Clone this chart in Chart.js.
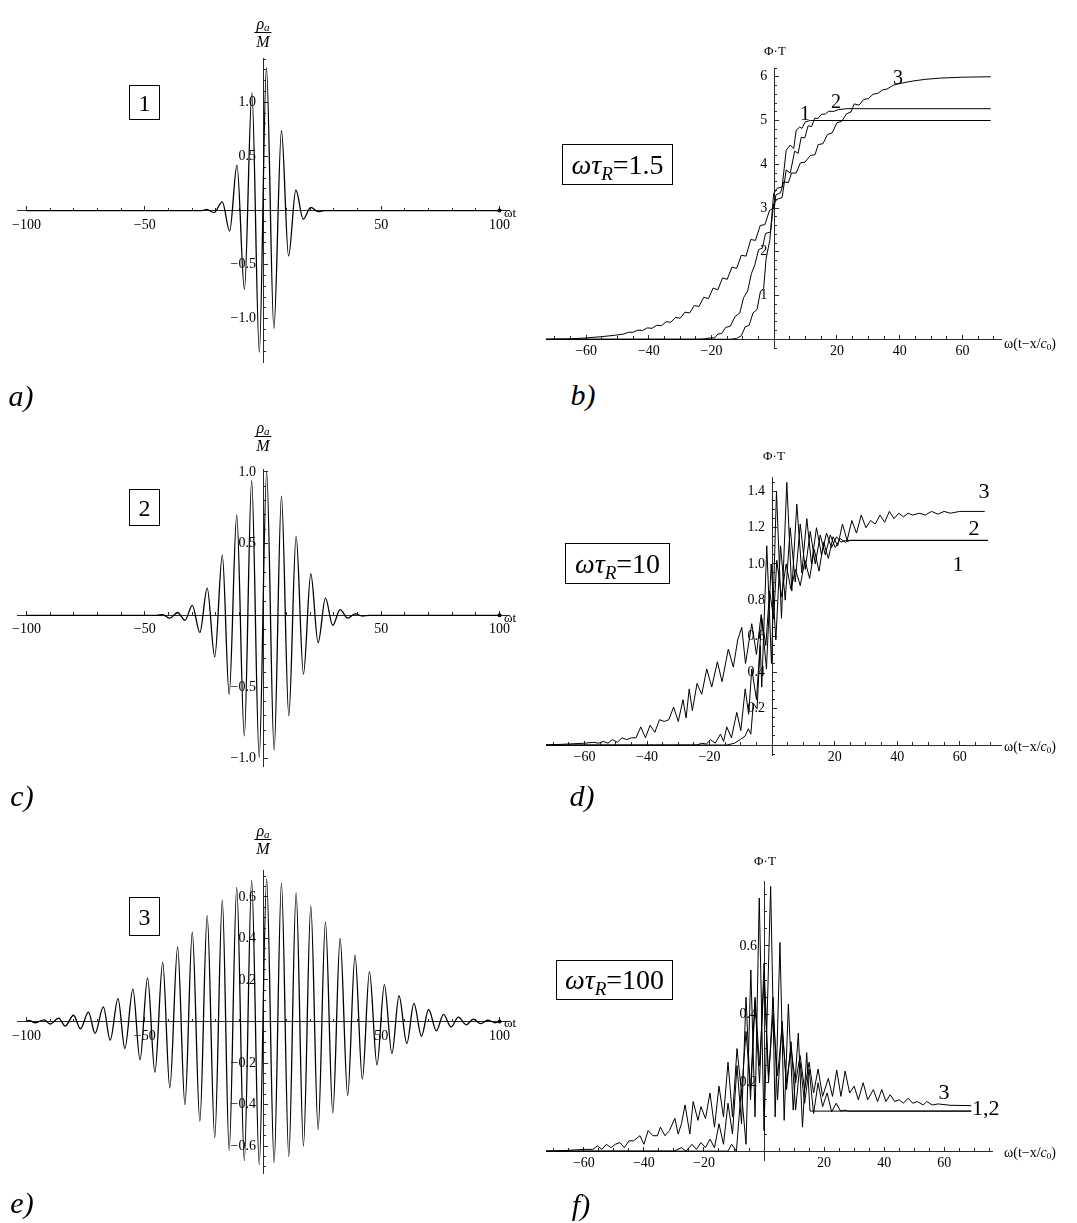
<!DOCTYPE html>
<html>
<head>
<meta charset="utf-8">
<script src="https://cdn.jsdelivr.net/npm/chart.js@4.4.1/dist/chart.umd.min.js"></script>
<style>
body { margin: 0; background: #fff; width: 1077px; height: 1223px; position: relative; overflow: hidden; font-family: "Liberation Serif", serif; color: #000; }
canvas { position: absolute; }
.t { position: absolute; white-space: nowrap; line-height: 1; transform: translate(-50%, -50%); }
.lt { position: absolute; white-space: nowrap; line-height: 1; transform: translateY(-50%); }
.box { position: absolute; border: 1.5px solid #000; box-sizing: border-box; display: flex; align-items: center; justify-content: center; white-space: nowrap; }
.box span { display: inline-block; line-height: 1; }
.box sub { font-size: 0.68em; vertical-align: -0.3em; font-style: italic; line-height: 0; }
.frac { position: absolute; transform: translateX(-50%); display: flex; flex-direction: column; align-items: center; font-style: italic; font-size: 16px; }
.frac .num { line-height: 16px; height: 16px; border-bottom: 1px solid #000; padding: 0 2px; }
.frac .num sub { font-size: 11px; vertical-align: -2px; line-height: 0; }
.frac .den { line-height: 16px; padding-top: 1px; }
.let { font-style: italic; font-size: 30px; }
</style>
</head>
<body>
<script>
// Data
///////////////////////////////////////////////////////////////////////

// wave packets rho_a/M vs omega*t : extrema
const waveAX = [-100, -26, -23.8, -20.7, -17.2, -14.1, -11.0, -7.85, -4.7, -1.55, 1.45, 4.6, 7.8, 10.8, 13.9, 17.0, 20.2, 23.3, 26, 100];
const waveAY = [0, 0, 0.01, -0.02, 0.08, -0.19, 0.42, -0.73, 1.09, -1.31, 1.32, -1.09, 0.74, -0.42, 0.19, -0.08, 0.03, -0.01, 0, 0];

const waveCX = [-100, -45, -42.4, -39.4, -36.1, -33, -29.9, -26.7, -23.6, -20.4, -17.2, -14.3, -11.1, -7.9, -4.8, -1.6, 1.55, 4.7, 7.8, 10.9, 14, 17.1, 20.2, 23.3, 26.4, 29.5, 32.6, 35.8, 39, 42, 45, 100];
const waveCY = [0, 0, 0.005, -0.02, 0.02, -0.035, 0.07, -0.12, 0.19, -0.29, 0.42, -0.55, 0.70, -0.84, 0.94, -0.99, 1.0, -0.94, 0.83, -0.70, 0.55, -0.41, 0.29, -0.19, 0.12, -0.07, 0.04, -0.02, 0.01, -0.005, 0, 0];

const waveEX = [-100, -99, -96.2, -92.6, -90, -86.4, -83.6, -80.1, -77.2, -73.8, -71, -67.5, -64.6, -61.3, -58.4, -55, -52, -48.8, -45.7, -42.4, -39.4, -36.1, -33, -29.9, -26.7, -23.6, -20.4, -17.2, -14.3, -11.1, -7.9, -4.8, -1.6,
  1.55, 4.7, 7.8, 10.9, 14, 17.1, 20.2, 23.3, 26.4, 29.5, 32.6, 35.8, 38.9, 42, 45, 48.2, 51.3, 54.5, 57.5, 60.8, 63.8, 67, 70, 73.3, 76.3, 79.5, 82.6, 85.9, 88.9, 92, 95, 98.3, 100];
const waveEY = [0, 0.005, -0.006, 0.008, -0.012, 0.016, -0.022, 0.03, -0.035, 0.045, -0.057, 0.07, -0.09, 0.11, -0.13, 0.156, -0.185, 0.21, -0.245, 0.285, -0.32, 0.36, -0.40, 0.43, -0.48, 0.51, -0.56, 0.585, -0.62, 0.646, -0.67, 0.68, -0.69,
  0.686, -0.68, 0.667, -0.65, 0.62, -0.60, 0.557, -0.52, 0.48, -0.44, 0.40, -0.357, 0.32, -0.278, 0.24, -0.21, 0.178, -0.154, 0.124, -0.106, 0.087, -0.071, 0.058, -0.045, 0.034, -0.026, 0.021, -0.016, 0.011, -0.01, 0.006, -0.006, 0];

// Phi*T vs omega(t - x/c0), curves 1..3, [x, y] vertices
const phiB1 = [[-72.8,0],[-14,0],[-12,0.02],[-10.5,0.08],[-9.3,0.28],[-8,0.32],[-6.8,0.6],[-5.5,0.68],[-4.4,1.1],[-3.4,1.15],[-2.6,1.85],[-1.4,2.27],[-0.2,3.33],[0.9,3.45],[2.5,3.48],[3.8,4.32],[5.1,4.44],[6.2,4.36],[7,4.78],[8.1,4.85],[8.8,4.82],[9.9,4.97],[11.5,5],[69,5]];
const phiB2 = [[-72.8,0],[-24,0],[-22,0.01],[-20.5,0.03],[-19,0.03],[-18,0.12],[-16.8,0.13],[-15.5,0.27],[-14,0.3],[-12.5,0.52],[-11,0.6],[-9.8,0.95],[-8.5,1.1],[-7.3,1.5],[-6.2,1.7],[-5,2.05],[-3.8,2.08],[-2.8,2.42],[-1.2,2.45],[-0.2,3.1],[0.9,3.2],[2.5,3.24],[3.8,3.87],[5.1,3.8],[6.5,4.3],[7.6,4.25],[8.6,4.62],[9.7,4.6],[10.8,4.88],[11.9,4.86],[12.9,5.05],[14,5.05],[15,5.14],[16.3,5.15],[17.3,5.21],[19.1,5.21],[20.5,5.25],[23.2,5.27],[69,5.27]];
const phiB3 = [[-72.8,0],[-65,0.01],[-60,0.03],[-55,0.06],[-51,0.09],[-48,0.12],[-46.5,0.16],[-45,0.16],[-43.5,0.21],[-42,0.2],[-40.5,0.26],[-39,0.25],[-37.5,0.32],[-36,0.31],[-34.5,0.4],[-33,0.39],[-31.5,0.5],[-30,0.48],[-28.5,0.62],[-27,0.6],[-25.5,0.77],[-24,0.75],[-22.5,0.96],[-21,0.93],[-19.5,1.17],[-18,1.13],[-16.5,1.4],[-15,1.37],[-13.5,1.65],[-12,1.62],[-10.5,1.92],[-9,1.9],[-7.5,2.28],[-6,2.26],[-4.5,2.6],[-3,2.62],[-1.5,2.95],[0,3.0],[0.5,3.3],[2,3.35],[3,3.6],[4.5,3.58],[5.5,3.8],[7,3.8],[8.3,4.03],[9.8,4.05],[11.5,4.2],[13,4.22],[14,4.45],[15.5,4.47],[17,4.68],[18.5,4.72],[20,4.95],[21.5,4.98],[23,5.15],[24.5,5.2],[25.5,5.38],[27,5.35],[28.5,5.48],[30,5.5],[31.5,5.6],[33,5.62],[34.5,5.7],[36,5.72],[38,5.81],[41,5.86],[44,5.9],[48,5.94],[53,5.97],[60,5.99],[69,6.0]];

const phiD1 = [[-72.3,0],[-14.5,0],[-12,0.01],[-10.2,0.03],[-8.6,0.05],[-7.6,0.09],[-6.8,0.06],[-6,0.23],[-4.8,0.2],[-3.8,0.55],[-3.3,0.32],[-1.7,1.1],[-0.2,0.45],[1.4,1.4],[3,0.7],[4.7,1.45],[6.3,0.85],[7.9,1.33],[9.5,0.95],[11.1,1.25],[12.6,1.0],[14.2,1.2],[15.8,1.05],[17.4,1.17],[19,1.09],[20.6,1.15],[22,1.12],[23.5,1.13],[69,1.13]];
const phiD2 = [[-72.3,0],[-24,0],[-22.5,0.01],[-21,0.005],[-19.7,0.03],[-18.2,0.01],[-16.5,0.06],[-15.5,0.02],[-14.5,0.1],[-13,0.04],[-11.3,0.18],[-10,0.08],[-8.6,0.31],[-7.5,0.17],[-6.5,0.42],[-5,0.25],[-3.3,0.7],[-1.8,0.42],[-0.3,1.0],[1.2,0.58],[2.7,1.1],[4.2,0.8],[5.8,1.2],[7.4,0.9],[9,1.22],[10.6,0.97],[12.2,1.18],[13.8,1.0],[15.4,1.16],[17,1.05],[18.6,1.16],[20.2,1.09],[21.8,1.14],[23.4,1.12],[25,1.13],[69,1.13]];
const phiD3 = [[-72.3,0],[-66,0.005],[-60,0.01],[-57,0.015],[-55.5,0.01],[-54,0.02],[-52.5,0.01],[-51,0.03],[-49.5,0.015],[-48,0.04],[-46.5,0.03],[-45,0.04],[-43.5,0.04],[-42,0.1],[-40.5,0.04],[-39,0.11],[-37.5,0.07],[-36,0.14],[-34.5,0.13],[-33,0.14],[-31.5,0.21],[-30,0.13],[-28.5,0.25],[-27.5,0.15],[-26.5,0.31],[-25.5,0.19],[-24,0.34],[-22.5,0.28],[-20.9,0.42],[-19.3,0.32],[-17.5,0.46],[-16,0.35],[-14,0.53],[-12.4,0.43],[-11,0.58],[-9.7,0.65],[-8.5,0.45],[-6.5,0.67],[-5,0.5],[-3.5,0.72],[-2,0.55],[-0.8,0.85],[0.5,0.7],[1.5,1.02],[3,0.82],[4.5,1.0],[6,0.86],[7.5,0.97],[9,0.88],[10.5,1.02],[12,0.92],[13.5,1.08],[15,0.96],[16.5,1.12],[18,1.03],[19.5,1.15],[21,1.1],[22.5,1.22],[24,1.13],[25.5,1.24],[27,1.17],[28.5,1.27],[30,1.2],[31.5,1.24],[33,1.22],[34.5,1.27],[36,1.23],[37.5,1.29],[39,1.25],[40.5,1.28],[42,1.26],[43.5,1.28],[45,1.27],[47,1.28],[49,1.27],[51,1.29],[53,1.275],[55,1.29],[57,1.28],[60,1.29],[68,1.29]];

const phiF1 = [[-72.6,0],[-12,0],[-10.8,0.02],[-9.2,0.0],[-7.6,0.18],[-6,0.02],[-4.4,0.53],[-3,0.1],[-1.6,0.74],[0,0.06],[2.2,0.774],[3.7,0.1],[5.3,0.61],[6.7,0.09],[8.1,0.43],[9.7,0.12],[11.4,0.345],[12.8,0.07],[14.2,0.288],[15.3,0.117],[69,0.117]];
const phiF2 = [[-72.6,0],[-30,0],[-27.5,0.01],[-26,0],[-24,0.02],[-22.5,0.005],[-21,0.025],[-19.5,0.01],[-18,0.035],[-16.5,0.01],[-15,0.08],[-13.5,0.02],[-12,0.14],[-10.5,0.05],[-9,0.25],[-7.5,0.08],[-6,0.45],[-4.5,0.15],[-3,0.44],[-1.5,0.2],[0,0.55],[1.5,0.2],[3,0.45],[4.5,0.15],[6,0.38],[7.5,0.18],[9,0.32],[10.5,0.12],[12,0.26],[13.5,0.14],[15,0.24],[16.5,0.11],[18,0.2],[19.5,0.13],[21,0.17],[22.5,0.115],[24,0.14],[25.5,0.117],[27,0.12],[28,0.117],[69,0.117]];
const phiF3 = [[-72.6,0],[-66,0.002],[-60,0.005],[-57,0.005],[-55.5,0.015],[-54,0.005],[-52.5,0.02],[-51,0.01],[-49.5,0.02],[-48,0.025],[-46.5,0.01],[-45,0.03],[-43.5,0.03],[-41.3,0.045],[-40,0.02],[-38.6,0.06],[-37,0.045],[-35.5,0.045],[-34.5,0.07],[-33,0.045],[-31.5,0.06],[-29.7,0.096],[-28.6,0.05],[-27.5,0.08],[-26.3,0.135],[-24.7,0.05],[-23.6,0.145],[-22,0.09],[-21,0.13],[-19.5,0.095],[-18,0.17],[-16.5,0.07],[-15,0.19],[-13.5,0.1],[-12,0.26],[-10.5,0.1],[-9,0.3],[-7.5,0.17],[-6,0.35],[-4.5,0.18],[-3,0.45],[-1.5,0.25],[0,0.5],[1.5,0.22],[3,0.4],[4.5,0.22],[6,0.36],[7.5,0.2],[9,0.3],[10.5,0.2],[12,0.28],[13.5,0.18],[15,0.26],[16.5,0.17],[18,0.24],[19.5,0.16],[21.4,0.213],[22.8,0.16],[24.2,0.237],[25.6,0.16],[27,0.234],[28.5,0.17],[30,0.19],[31.4,0.15],[33,0.2],[34.5,0.15],[36.4,0.18],[37.8,0.145],[39.2,0.18],[40.6,0.145],[42,0.165],[43.5,0.145],[45,0.15],[46.4,0.14],[48,0.155],[49.5,0.14],[51,0.145],[53,0.135],[54.2,0.145],[56,0.135],[58,0.138],[62,0.134],[69,0.133]];

// tick labels
const waveXTicks = [-100, -50, 50, 100];
const waveAYTicks = [-1, -0.5, 0.5, 1];
const waveCYTicks = [-1, -0.5, 0.5, 1];
const waveEYTicks = [-0.6, -0.4, -0.2, 0.2, 0.4, 0.6];
const phiXTicks = [-60, -40, -20, 20, 40, 60];
const phiBYTicks = [1, 2, 3, 4, 5, 6];
const phiDYTicks = [0.2, 0.4, 0.6, 0.8, 1.0, 1.2, 1.4];
const phiFYTicks = [0.2, 0.4, 0.6];

// Functions
///////////////////////////////////////////////////////////////////////
const PAD = 30;
const AX = '#2a2a2a';
const tickFont = { family: 'Liberation Serif', size: 14 };

function fmt(v, d) {
    if (Math.abs(v) < 1e-9) return '';
    return (v < 0 ? '\u2212' : '') + Math.abs(v).toFixed(d);
}

function zipXY(xs, ys) { return xs.map((x, i) => ({ x: x, y: ys[i] })); }
function pairs(p) { return p.map(q => ({ x: q[0], y: q[1] })); }

// box = [left, top, width, height] of the plot area in page pixels
function addPanel(o) {
    const cv = document.createElement('canvas');
    cv.width = o.box[2] + 2 * PAD;
    cv.height = o.box[3] + 2 * PAD;
    cv.style.left = (o.box[0] - PAD) + 'px';
    cv.style.top = (o.box[1] - PAD) + 'px';
    document.body.appendChild(cv);

    const datasets = o.series.map(s => ({
        data: s,
        xAxisID: 'x',
        yAxisID: 'y',
        borderColor: '#000',
        borderWidth: o.lw,
        pointRadius: o.dot ? (c => c.dataIndex === s.length - 1 ? 2 : 0) : 0,
        pointBackgroundColor: '#000',
        pointBorderWidth: 0,
        fill: false,
        tension: 0,
        cubicInterpolationMode: o.smooth ? 'monotone' : 'default'
    }));

    return new Chart(cv, {
        type: 'line',
        data: { datasets: datasets },
        options: {
            responsive: false,
            animation: false,
            devicePixelRatio: 1,
            layout: { padding: PAD },
            plugins: { legend: { display: false }, tooltip: { enabled: false } },
            scales: {
                x: {
                    type: 'linear', min: o.xr[0], max: o.xr[1], position: { y: 0 },
                    afterBuildTicks: s => { s.ticks = o.xt.map(v => ({ value: v })); },
                    border: { display: true, color: AX, width: 1 },
                    grid: { drawOnChartArea: false, tickLength: -5, color: AX },
                    ticks: { autoSkip: false, maxRotation: 0, padding: o.xpad, color: '#000', font: tickFont,
                             callback: v => fmt(v, 0) }
                },
                xm: {
                    type: 'linear', axis: 'x', min: o.xr[0], max: o.xr[1], position: { y: 0 },
                    border: { display: false },
                    grid: { drawOnChartArea: false, tickLength: -3, color: AX },
                    ticks: { stepSize: o.xminor, includeBounds: false, autoSkip: false, display: false }
                },
                y: {
                    type: 'linear', min: o.yr[0], max: o.yr[1], position: { x: 0 },
                    afterBuildTicks: s => { s.ticks = o.yt.map(v => ({ value: v })); },
                    border: { display: true, color: AX, width: 1 },
                    grid: { drawOnChartArea: false, tickLength: -5, color: AX },
                    ticks: { autoSkip: false, color: '#000', font: tickFont,
                             callback: v => { const t = fmt(v, o.yd); return t ? t + '\u2002' : ''; } }
                },
                ym: {
                    type: 'linear', axis: 'y', min: o.yr[0], max: o.yr[1], position: { x: 0 },
                    border: { display: false },
                    grid: { drawOnChartArea: false, tickLength: -3, color: AX },
                    ticks: { stepSize: o.yminor, includeBounds: false, autoSkip: false, display: false }
                }
            }
        }
    });
}

function put(cls, html, x, y, css) {
    const d = document.createElement('div');
    d.className = cls;
    d.innerHTML = html;
    d.style.left = x + 'px';
    d.style.top = y + 'px';
    if (css) d.style.cssText += css;
    document.body.appendChild(d);
    return d;
}

function box(html, l, t, w, h, size) {
    return put('box', '<span>' + html + '</span>', l, t, 'width:' + w + 'px;height:' + h + 'px;font-size:' + size + 'px;');
}

function frac(cx, barY) {
    put('frac', '<span class="num">\u03C1<sub>a</sub></span><span class="den">M</span>', cx, barY - 17);
}

// Panels
///////////////////////////////////////////////////////////////////////
const waveOpts = { xr: [-104, 104], xt: waveXTicks, xminor: 10, xpad: 11, lw: 1.3, smooth: true, dot: true };

addPanel(Object.assign({}, waveOpts, { box: [17, 58, 492, 304], yr: [-1.4, 1.41], yt: waveAYTicks, yminor: 0.1, yd: 1, series: [zipXY(waveAX, waveAY)] }));
addPanel(Object.assign({}, waveOpts, { box: [17, 469, 492, 297], yr: [-1.05, 1.02], yt: waveCYTicks, yminor: 0.1, yd: 1, series: [zipXY(waveCX, waveCY)] }));
addPanel(Object.assign({}, waveOpts, { box: [17, 870, 492, 303], yr: [-0.73, 0.73], yt: waveEYTicks, yminor: 0.05, yd: 1, series: [zipXY(waveEX, waveEY)] }));

const phiOpts = { xt: phiXTicks, xminor: 5, xpad: 9, lw: 1, smooth: false, dot: false };
addPanel(Object.assign({}, phiOpts, { box: [546, 68, 455, 280], xr: [-72.8, 72.3], yr: [-0.2, 6.2], yt: phiBYTicks, yminor: 0.2, yd: 0, series: [pairs(phiB1), pairs(phiB2), pairs(phiB3)] }));
addPanel(Object.assign({}, phiOpts, { box: [546, 477, 455, 278], xr: [-72.3, 73.2], yr: [-0.055, 1.48], yt: phiDYTicks, yminor: 0.05, yd: 1, series: [pairs(phiD1), pairs(phiD2), pairs(phiD3)] }));
addPanel(Object.assign({}, phiOpts, { box: [546, 881, 446, 279], xr: [-72.6, 75.9], yr: [-0.026, 0.79], yt: phiFYTicks, yminor: 0.05, yd: 1, series: [pairs(phiF1), pairs(phiF2), pairs(phiF3)] }));

// Texts
///////////////////////////////////////////////////////////////////////
frac(263, 33);
frac(263, 437);
frac(263, 840);
put('lt', '\u03C9t', 504, 212, 'font-size:13px;');
put('lt', '\u03C9t', 504, 617, 'font-size:13px;');
put('lt', '\u03C9t', 504, 1022, 'font-size:13px;');

box('1', 129, 85, 31, 35, 24);
box('2', 129, 489, 31, 37, 24);
box('3', 129, 897, 31, 39, 24);

put('t', '\u03A6\u00B7T', 775, 50, 'font-size:13px;');
put('t', '\u03A6\u00B7T', 774, 455, 'font-size:13px;');
put('t', '\u03A6\u00B7T', 765, 860, 'font-size:13px;');
const xTitle = '\u03C9(t\u2212x/<i>c</i><sub style="font-size:9px;vertical-align:-2px;line-height:0">0</sub>)';
put('lt', xTitle, 1004, 344, 'font-size:14px;');
put('lt', xTitle, 1004, 747, 'font-size:14px;');
put('lt', xTitle, 1004, 1153, 'font-size:14px;');

box('<i>\u03C9\u03C4</i><sub>R</sub>=1.5', 562, 144, 111, 41, 28);
box('<i>\u03C9\u03C4</i><sub>R</sub>=10', 565, 543, 105, 41, 28);
box('<i>\u03C9\u03C4</i><sub>R</sub>=100', 556, 960, 117, 40, 28);

put('t', '1', 805, 113, 'font-size:20px;');
put('t', '2', 836, 101, 'font-size:20px;');
put('t', '3', 898, 77, 'font-size:20px;');
put('t', '3', 984, 491, 'font-size:22px;');
put('t', '2', 974, 528, 'font-size:22px;');
put('t', '1', 958, 564, 'font-size:22px;');
put('t', '3', 944, 1092, 'font-size:22px;');
put('lt', '1,2', 972, 1108, 'font-size:22px;');

put('t let', 'a)', 21, 396);
put('t let', 'b)', 583, 395);
put('t let', 'c)', 22, 796);
put('t let', 'd)', 582, 796);
put('t let', 'e)', 22, 1203);
put('t let', 'f)', 581, 1205);
</script>
</body>
</html>
